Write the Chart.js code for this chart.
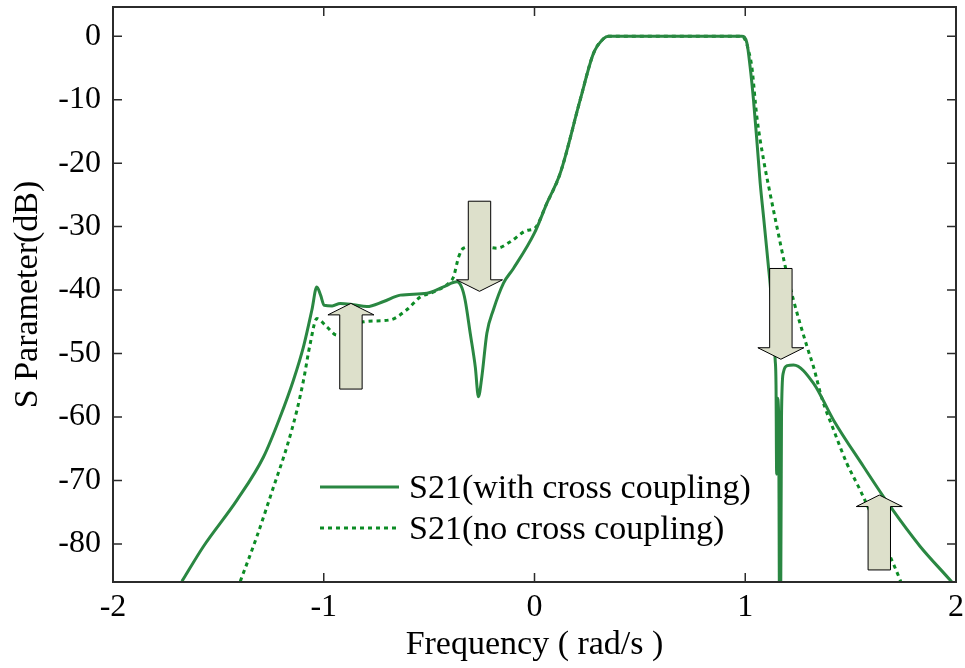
<!DOCTYPE html>
<html>
<head>
<meta charset="utf-8">
<script src="https://cdn.jsdelivr.net/npm/chart.js@4.4.1/dist/chart.umd.min.js"></script>
<style>
  html, body { margin: 0; padding: 0; background: #fff; }
</style>
</head>
<body>
<canvas id="s21-chart" width="965" height="668"></canvas>
<script>
// S21 with cross coupling (solid)
const freqCross = [-1.673, -1.571, -1.412, -1.286, -1.207, -1.144, -1.096, -1.056, -1.033, -1.015, -0.998,
  -0.96, -0.922, -0.86, -0.795, -0.716, -0.637, -0.51, -0.432, -0.368, -0.345, -0.329, -0.305, -0.281,
  -0.266, -0.25, -0.226, -0.195, -0.147, -0.1, 0, 0.059, 0.122, 0.217, 0.28, 0.327, 0.351, 0.984,
  1.008, 1.023, 1.039, 1.055, 1.071, 1.087, 1.11, 1.118, 1.142, 1.146, 1.149, 1.152, 1.158, 1.165,
  1.172, 1.18, 1.2, 1.229, 1.324, 1.419, 1.561, 1.688, 1.83, 1.972, 2.0]
const s21Cross = [-85.9, -80.4, -73.1, -66.3, -60.0, -54.2, -48.9, -43.1, -39.5, -40.8, -42.4,
  -42.5, -42.1, -42.3, -42.6, -41.8, -40.8, -40.5, -39.5, -38.7, -39.6, -41.6, -46.8, -52.1,
  -56.8, -53.7, -46.8, -43.1, -38.9, -36.6, -31.0, -26.3, -21.6, -10.0, -2.7, -0.4, 0, 0,
  -1.1, -4.8, -10.0, -16.4, -23.2, -28.5, -36.3, -39.0, -51.0, -55.0, -69.0, -57.0, -59.0, -110,
  -60.0, -53.1, -51.9, -51.8, -54.7, -60.5, -67.8, -74.1, -80.4, -85.7, -86.8]

// S21 without cross coupling (dotted)
const freqNoCross = [-1.396, -1.317, -1.238, -1.175, -1.127, -1.096, -1.064, -1.033, -0.985, -0.938,
  -0.811, -0.685, -0.606, -0.542, -0.479, -0.4, -0.384, -0.36, -0.337, -0.26, -0.178, -0.115, -0.036,
  0, 0.059, 0.122, 0.217, 0.28, 0.327, 0.351, 0.984, 1.0, 1.015, 1.031, 1.055, 1.087, 1.118, 1.15,
  1.19, 1.229, 1.293, 1.324, 1.364, 1.419, 1.482, 1.545, 1.625, 1.688, 1.735, 1.76]
const s21NoCross = [-85.9, -78.8, -71.0, -64.7, -58.9, -54.2, -48.4, -44.5, -45.8, -47.1,
  -45.0, -44.7, -43.1, -41.1, -40.3, -38.7, -37.9, -34.8, -33.4, -33.0, -33.4, -32.4, -30.6,
  -30.3, -26.3, -21.6, -10.0, -2.7, -0.4, 0, 0, -0.6, -2.2, -4.8, -12.7, -19.5, -24.8, -30.0,
  -36.3, -41.6, -48.9, -52.1, -57.1, -62.0, -67.3, -71.5, -77.3, -82.0, -85.7, -88.0]

const xTicks = [-2, -1, 0, 1, 2]
const yTicks = [0, -10, -20, -30, -40, -50, -60, -70, -80]
const seriesLabels = ['S21(with cross coupling)', 'S21(no cross coupling)']

// block arrows marking the zeros (data coords)
const arrowX = [-0.871, -0.261, 1.169, 1.636]
const arrowTip = [-42.1, -40.2, -50.9, -72.3]
const arrowTail = [-55.6, -26.0, -36.6, -84.1]

const serif = 'Liberation Serif, Times New Roman, serif'
const solidColor = '#2a8742'
const dotColor = '#0c8c25'

const toPoints = (xs, ys) => xs.map((x, i) => ({ x: x, y: ys[i] }))

// no extra room for overhanging labels
const noPad = s => { s.paddingTop = 0; s.paddingBottom = 0; s.paddingLeft = 0; s.paddingRight = 0 }

// box, inward ticks, legend and arrows
const decorations = {
  id: 'decorations',
  afterDatasetsDraw(chart) {
    const ctx = chart.ctx
    const a = chart.chartArea
    const sx = chart.scales.x
    const sy = chart.scales.y

    // arrows
    ctx.save()
    ctx.fillStyle = '#dde0cb'
    ctx.strokeStyle = '#000'
    ctx.lineWidth = 1
    arrowX.forEach((xv, i) => {
      const cx = sx.getPixelForValue(xv)
      const tip = sy.getPixelForValue(arrowTip[i])
      const tail = sy.getPixelForValue(arrowTail[i])
      const dir = tail > tip ? 1 : -1
      const hb = tip + dir * 11.5
      const hs = 11.2, hh = 23
      ctx.beginPath()
      ctx.moveTo(cx - hs, tail)
      ctx.lineTo(cx - hs, hb)
      ctx.lineTo(cx - hh, hb)
      ctx.lineTo(cx, tip)
      ctx.lineTo(cx + hh, hb)
      ctx.lineTo(cx + hs, hb)
      ctx.lineTo(cx + hs, tail)
      ctx.closePath()
      ctx.fill()
      ctx.stroke()
    })
    ctx.restore()

    // legend
    ctx.save()
    const lx = a.left + 207, lw = 79, ly = [487, 528]
    chart.data.datasets.forEach((ds, i) => {
      ctx.strokeStyle = ds.borderColor
      ctx.lineWidth = ds.borderWidth
      ctx.setLineDash(ds.borderDash || [])
      ctx.beginPath()
      ctx.moveTo(lx, ly[i])
      ctx.lineTo(lx + lw, ly[i])
      ctx.stroke()
      ctx.setLineDash([])
      ctx.fillStyle = '#000'
      ctx.font = '34px ' + serif
      ctx.textBaseline = 'middle'
      ctx.fillText(seriesLabels[i], lx + lw + 10, ly[i] + 2)
    })
    ctx.restore()

    // frame and ticks
    ctx.save()
    ctx.strokeStyle = '#2b2b2b'
    ctx.lineWidth = 2
    ctx.strokeRect(a.left, a.top, a.right - a.left, a.bottom - a.top)
    ctx.lineWidth = 1.5
    ctx.beginPath()
    xTicks.forEach(v => {
      const px = sx.getPixelForValue(v)
      ctx.moveTo(px, a.bottom); ctx.lineTo(px, a.bottom - 9)
      ctx.moveTo(px, a.top); ctx.lineTo(px, a.top + 9)
    })
    yTicks.forEach(v => {
      const py = sy.getPixelForValue(v)
      ctx.moveTo(a.left, py); ctx.lineTo(a.left + 9, py)
      ctx.moveTo(a.right, py); ctx.lineTo(a.right - 9, py)
    })
    ctx.stroke()
    ctx.restore()
  }
}

new Chart(document.getElementById('s21-chart'), {
  type: 'line',
  data: {
    datasets: [{
      label: seriesLabels[0],
      data: toPoints(freqCross, s21Cross),
      borderColor: solidColor,
      borderWidth: 3,
      pointRadius: 0,
      cubicInterpolationMode: 'monotone'
    }, {
      label: seriesLabels[1],
      data: toPoints(freqNoCross, s21NoCross),
      borderColor: dotColor,
      borderWidth: 3,
      borderDash: [4, 4],
      pointRadius: 0,
      cubicInterpolationMode: 'monotone'
    }]
  },
  options: {
    responsive: false,
    animation: false,
    layout: { padding: { top: 7, right: 9, left: 0, bottom: 0 } },
    plugins: {
      legend: { display: false },
      tooltip: { enabled: false }
    },
    scales: {
      x: {
        type: 'linear',
        min: -2,
        max: 2,
        afterBuildTicks: s => { s.ticks = xTicks.map(v => ({ value: v })) },
        afterFit: s => { s.height = 86; noPad(s) },
        grid: { display: false, drawTicks: false },
        border: { display: false },
        ticks: { color: '#000', font: { family: serif, size: 32 }, padding: 6, maxRotation: 0, autoSkip: false },
        title: { display: true, text: 'Frequency ( rad/s )', color: '#000', font: { family: serif, size: 34 }, padding: 3 }
      },
      y: {
        type: 'linear',
        min: -86,
        max: 4.6,
        afterBuildTicks: s => { s.ticks = yTicks.map(v => ({ value: v })) },
        afterFit: s => { s.width = 113; noPad(s) },
        grid: { display: false, drawTicks: false },
        border: { display: false },
        ticks: { color: '#000', font: { family: serif, size: 32 }, padding: 12, autoSkip: false },
        title: { display: true, text: 'S Parameter(dB)', color: '#000', font: { family: serif, size: 34 }, padding: 8 }
      }
    }
  },
  plugins: [decorations]
})
</script>
</body>
</html>
